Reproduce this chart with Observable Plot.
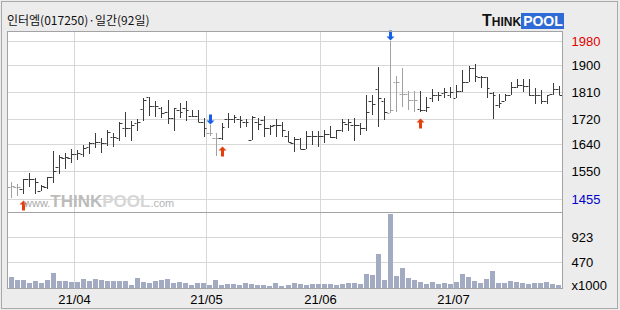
<!DOCTYPE html>
<html><head><meta charset="utf-8">
<script src="https://cdn.jsdelivr.net/npm/d3@7"></script>
<script src="https://cdn.jsdelivr.net/npm/@observablehq/plot@0.6"></script>
<style>
html,body{margin:0;padding:0;background:#ececec;}
#wrap{position:relative;width:620px;height:310px;background:#ececec;overflow:hidden;}
#border{position:absolute;left:1px;top:1px;width:615px;height:306px;border:1px solid #a9a9a9;}
#title{position:absolute;left:7px;top:11px;font-size:12px;font-family:"Noto Sans CJK KR","Noto Sans",sans-serif;color:#111;white-space:nowrap;}
#logo{position:absolute;left:482px;top:13px;height:15px;white-space:nowrap;font-family:"Liberation Sans",Arial,sans-serif;font-weight:bold;line-height:15px;}
#wm{position:absolute;left:24px;top:194px;white-space:nowrap;font-family:"Liberation Sans",Arial,sans-serif;line-height:16px;pointer-events:none;}
.abs{position:absolute;left:0;}
</style></head>
<body>
<div id="wrap">
  <div id="border"></div>
  <div id="title">인터엠(017250)·일간(92일)</div>
  <div id="logo"><span style="font-size:16px;color:#111">T</span><span style="font-size:12px;color:#111">HINK</span><span style="font-size:14px;color:#fff;background:#2f6bd6;padding:0 1px 0 2px;">POOL</span></div>
  <div id="pricebox" class="abs" style="top:31px"></div>
  <div id="volbox" class="abs" style="top:212px"></div>
  <div id="wm"><span style="font-size:11px;color:#aaa">www.</span><span style="font-size:17px;font-weight:bold;color:#bcbcbc">THINK</span><span style="font-size:17px;font-weight:bold;color:#d6d6d6">POOL</span><span style="font-size:11px;color:#b4b4b4">.com</span></div>
</div>
<script>
// ---- data (92 trading days, 2021-03-18 .. 2021-07-27) ----
const openP = [1497,1495,1490,1521,1521,1484,1495,1530,1561,1591,
  1591,1605,1605,1627,1641,1646,1641,1663,1660,1690,
  1690,1707,1753,1793,1765,1759,1744,1724,1750,1757,
  1731,1731,1712,1674,1660,1660,1723,1720,1720,1711,
  1652,1713,1718,1690,1701,1701,1665,1643,1654,1621,
  1665,1665,1665,1672,1663,1685,1705,1702,1702,1690,
  1780,1820,1780,1742,1843,1804,1804,1785,1755,1751,
  1790,1800,1808,1800,1790,1815,1843,1889,1862,1862,
  1806,1768,1781,1801,1829,1834,1832,1801,1801,1781,
  1803,1821];
const highP = [1514,1505,1523,1541,1525,1503,1530,1615,1602,1607,
  1621,1618,1635,1646,1674,1657,1685,1674,1710,1743,
  1715,1720,1790,1795,1780,1762,1784,1757,1773,1781,
  1751,1751,1724,1701,1674,1709,1740,1735,1731,1720,
  1731,1724,1731,1701,1720,1712,1682,1661,1657,1683,
  1683,1683,1685,1699,1685,1720,1720,1724,1709,1801,
  1802,1893,1790,1980,1865,1890,1813,1813,1813,1796,
  1820,1812,1823,1826,1834,1884,1898,1903,1865,1862,
  1810,1803,1803,1843,1854,1854,1854,1823,1817,1801,
  1840,1832];
const lowP = [1458,1466,1473,1495,1473,1483,1488,1510,1538,1554,
  1574,1586,1596,1605,1624,1610,1632,1630,1650,1663,
  1650,1683,1716,1730,1728,1724,1706,1680,1725,1714,
  1727,1711,1663,1665,1600,1652,1690,1709,1690,1696,
  1652,1685,1663,1668,1661,1663,1646,1613,1621,1621,
  1635,1630,1641,1657,1654,1679,1683,1650,1668,1680,
  1734,1694,1719,1742,1745,1762,1752,1745,1745,1746,
  1779,1782,1790,1790,1790,1810,1843,1845,1823,1792,
  1722,1759,1781,1801,1823,1812,1799,1770,1770,1770,
  1801,1801];
const closeP = [1500,1495,1521,1521,1513,1499,1530,1548,1596,1596,
  1605,1607,1624,1641,1646,1641,1679,1663,1707,1690,
  1700,1713,1785,1765,1765,1742,1724,1757,1745,1751,
  1731,1713,1690,1674,1660,1694,1723,1727,1718,1711,
  1729,1704,1690,1699,1701,1685,1646,1654,1621,1665,
  1665,1665,1672,1663,1685,1712,1712,1702,1693,1745,
  1770,1790,1746,1750,1843,1804,1785,1785,1750,1762,
  1800,1800,1812,1812,1815,1843,1889,1865,1862,1825,
  1800,1773,1801,1829,1834,1832,1801,1801,1781,1801,
  1821,1801];
const volume = [199,145,145,90,127,90,145,267,127,127,
  109,109,157,121,157,139,121,121,121,127,
  54,181,109,97,127,145,157,90,103,84,
  54,90,90,60,145,54,72,72,54,84,
  66,54,54,36,84,36,54,84,72,60,
  66,72,72,72,60,78,97,97,72,259,
  235,621,145,1339,217,362,181,145,115,72,
  109,78,90,78,109,259,193,133,90,163,
  308,90,90,127,115,97,72,90,84,109,
  72,54];
const outDays = [0,1,33,34,63,64,65,66,67];   // bars drawn in grey (after sell signal)
const buySignals = [2,35,68];
const sellSignals = [33,63];
const monthTickIdx = [10,32,51,73];
const monthLabels = ["21/04","21/05","21/06","21/07"];
const priceTicks = [1455,1550,1640,1720,1810,1900,1980];
const volTicks = [470,923];

// ---- build ----
const bars = d3.range(92).map(i => ({i, o: openP[i], h: highP[i], l: lowP[i], c: closeP[i], v: volume[i], grey: outDays.includes(i)}));
const darkBars = bars.filter(d => !d.grey), greyBars = bars.filter(d => d.grey);
const buys = buySignals.map(i => bars[i]), sells = sellSignals.map(i => bars[i]);
const monthPos = monthTickIdx.map(d => d + 0.4);
const xDomain = [-0.664, 91.53];
const FONT = '"Liberation Sans Narrow","Arial Narrow","Liberation Sans",sans-serif';
const GRID = "#d7d7d7", FRAME = "#a3a3a3", DARK = "#3b3b3b", LIGHT = "#a2a2a2";

const upArrow = {draw(ctx){ctx.moveTo(0,-5);ctx.lineTo(4,-1);ctx.lineTo(1.5,-1);ctx.lineTo(1.5,5);ctx.lineTo(-1.5,5);ctx.lineTo(-1.5,-1);ctx.lineTo(-4,-1);ctx.closePath();}};
const downArrow = {draw(ctx){ctx.moveTo(0,5);ctx.lineTo(4,1);ctx.lineTo(1.5,1);ctx.lineTo(1.5,-5);ctx.lineTo(-1.5,-5);ctx.lineTo(-1.5,1);ctx.lineTo(-4,1);ctx.closePath();}};

function ohlc(data, color) {
  return [
    Plot.ruleX(data, {x: "i", y1: "l", y2: "h", stroke: color}),
    Plot.ruleY(data, {y: "o", x1: d => d.i - 0.45, x2: "i", stroke: color, dx: -0.5}),
    Plot.ruleY(data, {y: "c", x1: "i", x2: d => d.i + 0.45, stroke: color, dx: 0.5})
  ];
}
const axisOpts = {anchor: "right", tickSize: 0, tickPadding: 9, tickFormat: d => String(d), fontSize: 13, label: null};

const price = Plot.plot({
  width: 620, height: 181, marginLeft: 7, marginRight: 58, marginTop: 0, marginBottom: 0,
  style: {background: "transparent", overflow: "visible", fontFamily: FONT, fontSize: "13px"},
  x: {domain: xDomain, round: true, axis: null},
  y: {domain: [1413.0, 2013.2], round: true, axis: null},
  marks: [
    Plot.frame({fill: "white", stroke: null}),
    Plot.gridY(priceTicks, {stroke: GRID, strokeOpacity: 1}),
    Plot.gridX(monthPos, {stroke: GRID, strokeOpacity: 1}),
    ...ohlc(greyBars, LIGHT),
    ...ohlc(darkBars, DARK),
    Plot.dot(buys, {x: "i", y: "l", dy: 11, symbol: upArrow, fill: "#e4400e", stroke: null, r: 4}),
    Plot.dot(sells, {x: "i", y: "h", dy: -6, symbol: downArrow, fill: "#1560e6", stroke: null, r: 4}),
    Plot.frame({stroke: FRAME}),
    Plot.axisY(priceTicks.filter(t => t !== 1980 && t !== 1455), {...axisOpts, fill: "#000"}),
    Plot.axisY([1980], {...axisOpts, fill: "#e00000"}),
    Plot.axisY([1455], {...axisOpts, fill: "#0000c8"})
  ]
});
document.getElementById("pricebox").appendChild(price);

const vol = Plot.plot({
  width: 620, height: 98, marginLeft: 7, marginRight: 58, marginTop: 0, marginBottom: 22,
  style: {background: "transparent", overflow: "visible", fontFamily: FONT, fontSize: "13px"},
  x: {domain: xDomain, round: true, axis: null},
  y: {domain: [0, 1375.5], round: true, axis: null},
  marks: [
    Plot.frame({fill: "white", stroke: null}),
    Plot.gridY(volTicks, {stroke: GRID, strokeOpacity: 1}),
    Plot.gridX(monthPos, {stroke: GRID, strokeOpacity: 1}),
    Plot.rectY(bars, {x1: d => d.i - 0.4, x2: d => d.i + 0.43, y: "v", fill: "#a3abc3"}),
    Plot.frame({stroke: FRAME}),
    Plot.axisY(volTicks, {...axisOpts, fill: "#000"}),
    Plot.axisY([0], {...axisOpts, tickFormat: () => "x1000", fill: "#000", dy: -3}),
    Plot.axisX(monthPos, {anchor: "bottom", tickSize: 0, tickPadding: 6, tickFormat: d => monthLabels[monthPos.indexOf(d)], fill: "#000", fontSize: 13, letterSpacing: 1.5, label: null})
  ]
});
document.getElementById("volbox").appendChild(vol);
</script>
</body></html>
